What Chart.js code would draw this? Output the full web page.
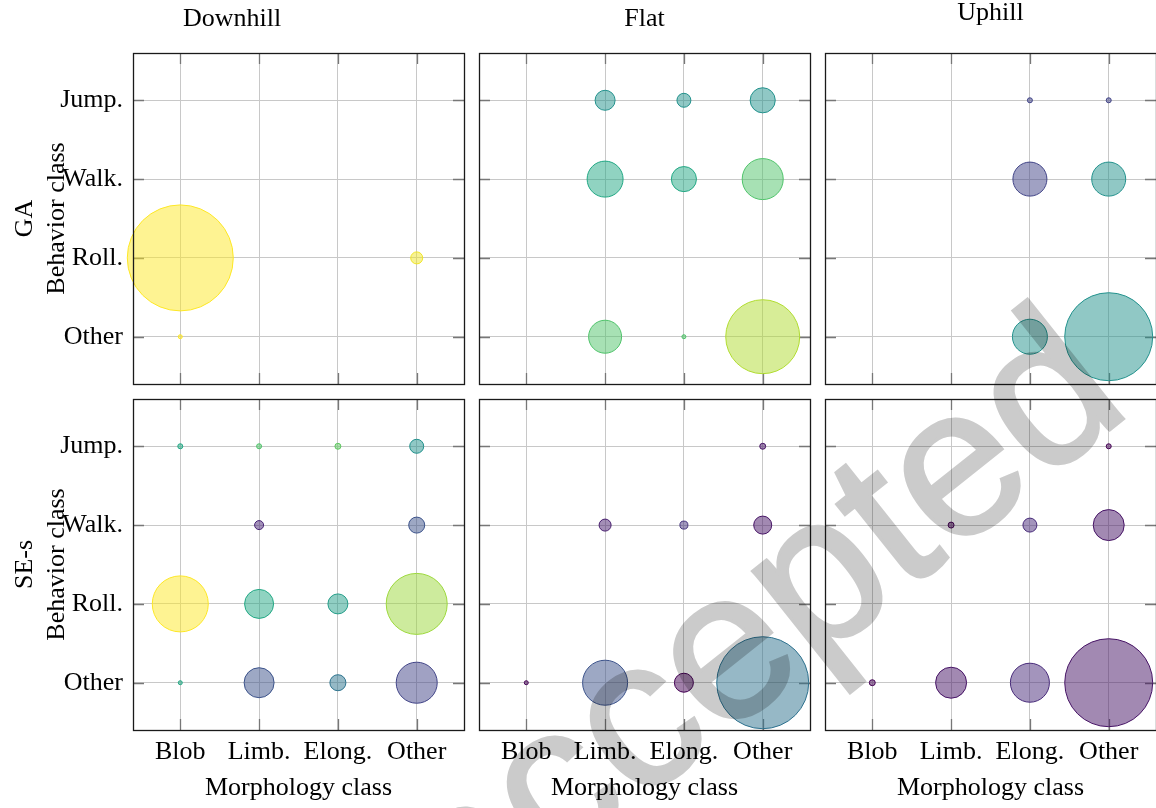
<!DOCTYPE html>
<html>
<head>
<meta charset="utf-8">
<style>
	html, body { margin: 0; padding: 0; background: #fff; overflow: hidden; width: 1156px; height: 808px; }
	canvas { position: absolute; }
	#wm { position: absolute; left: 0; top: 0; mix-blend-mode: multiply; pointer-events: none; }
</style>
<script src="https://cdn.jsdelivr.net/npm/chart.js"></script>
</head>
<body>
<canvas id="_c0"></canvas><canvas id="_c1"></canvas><canvas id="_c2"></canvas>
<canvas id="_c3"></canvas><canvas id="_c4"></canvas><canvas id="_c5"></canvas>
<svg id="wm" width="1156" height="808"><text x="461" y="946" transform="rotate(-38.5 461 946)" font-family="Liberation Sans, Arial, sans-serif" font-size="212" fill="#cbcbcb" stroke="#cbcbcb" stroke-width="3">accepted</text></svg>

<script>
var morphology = ['Blob', 'Limb.', 'Elong.', 'Other'];
var behavior   = ['Other', 'Roll.', 'Walk.', 'Jump.'];   // bottom -> top
var terrains   = ['Downhill', 'Flat', 'Uphill'];
var methods    = ['GA', 'SE-s'];

// share of runs (%), rows top -> bottom: Jump., Walk., Roll., Other ; cols Blob, Limb., Elong., Other
var gaDownhill = [ [0,0,0,0], [0,0,0,0], [98.1,0,0,1.26], [0.14,0,0,0] ];
var gaFlat     = [ [0,3.5,1.7,5.5], [0,11.3,5.5,14.7], [0,0,0,0], [0,9.5,0.14,47.8] ];
var gaUphill   = [ [0,0,0.22,0.22], [0,0,10.1,10.1], [0,0,0,0], [0,0,10.7,67.6] ];
var seDownhill = [ [0.22,0.22,0.31,1.71], [0,0.71,0,2.24], [27.4,7.35,3.49,32.5], [0.14,7.86,2.24,14.7] ];
var seFlat     = [ [0,0,0,0.31], [0,1.26,0.56,2.83], [0,0,0,0], [0.14,17.7,3.15,73.9] ];
var seUphill   = [ [0,0,0,0.22], [0,0.31,1.71,8.39], [0,0,0,0], [0.31,8.39,13.3,67.6] ];

// colour value (0..1 on viridis), same layout
var gaDownhillC = [ [0,0,0,0], [0,0,0,0], [1,0,0,0.98], [1,0,0,0] ];
var gaFlatC     = [ [0,.5,.5,.5], [0,.6,.6,.72], [0,0,0,0], [0,.72,.72,.88] ];
var gaUphillC   = [ [0,0,.2,.2], [0,0,.2,.5], [0,0,0,0], [0,0,.5,.5] ];
var seDownhillC = [ [.6,.72,.75,.5], [0,.1,0,.25], [1,.6,.55,.85], [.6,.25,.38,.2] ];
var seFlatC     = [ [0,0,0,.05], [0,.08,.15,.05], [0,0,0,0], [0,.25,0,.37] ];
var seUphillC   = [ [0,0,0,0], [0,0,.12,.05], [0,0,0,0], [0,.05,.12,.05] ];

var panels = [
	[gaDownhill, gaDownhillC], [gaFlat, gaFlatC], [gaUphill, gaUphillC],
	[seDownhill, seDownhillC], [seFlat, seFlatC], [seUphill, seUphillC]
];

var viridis = ['#440154','#482475','#414487','#355f8d','#2a788e','#21918c','#22a884','#44bf70','#7ad151','#bddf26','#fde725'];
function hex(h) { return [1,3,5].map(i => parseInt(h.substr(i, 2), 16)); }
function cmap(t, a) {
	var f = t * 10, i = Math.min(9, Math.floor(f)), k = f - i;
	var p = hex(viridis[i]), q = hex(viridis[i + 1]);
	var c = p.map((v, j) => Math.round(v + (q[j] - v) * k));
	return 'rgba(' + c.join(',') + ',' + a + ')';
}

function points(share, tone) {
	var pts = [];
	share.forEach((row, i) => row.forEach((v, j) => {
		if (v > 0) pts.push({ x: j, y: 3 - i, r: 5.35 * Math.sqrt(v), c: tone[i][j] });
	}));
	return pts.sort((a, b) => b.r - a.r);
}

var frame = {
	id: 'frame',
	beforeDatasetsDraw(chart) {
		var ctx = chart.ctx, a = chart.chartArea, x = chart.scales.x, y = chart.scales.y;
		ctx.save();
		ctx.strokeStyle = '#777'; ctx.lineWidth = 1.3;
		ctx.beginPath();
		x.ticks.forEach(t => {
			var px = Math.round(x.getPixelForValue(t.value)) + 0.5;
			ctx.moveTo(px, a.top); ctx.lineTo(px, a.top + 11);
			ctx.moveTo(px, a.bottom); ctx.lineTo(px, a.bottom - 11);
		});
		y.ticks.forEach(t => {
			var py = Math.round(y.getPixelForValue(t.value)) + 0.5;
			ctx.moveTo(a.left, py); ctx.lineTo(a.left + 11, py);
			ctx.moveTo(a.right, py); ctx.lineTo(a.right - 11, py);
		});
		ctx.stroke();
		ctx.restore();
	},
	afterDraw(chart) {
		var ctx = chart.ctx, a = chart.chartArea;
		ctx.save();
		ctx.strokeStyle = '#1a1a1a'; ctx.lineWidth = 1.3;
		ctx.strokeRect(a.left + 0.5, a.top + 0.5, a.right - a.left, a.bottom - a.top);
		ctx.restore();
	}
};

var PL = [133, 479, 825], PT = [53, 399], PS = 331;
var serif = 'Liberation Serif';

function makeChart(idx) {
	var row = Math.floor(idx / 3), col = idx % 3;
	var left = col === 0, top = row === 0, bottom = row === 1;
	var cv = document.getElementById('_c' + idx);
	cv.width = (left ? 133 : 6) + PS + 6;
	cv.height = (top ? 53 : 6) + PS + (bottom ? 78 : 6);
	cv.style.left = (left ? 0 : PL[col] - 6) + 'px';
	cv.style.top = (top ? 0 : PT[row] - 6) + 'px';

	var pts = points(panels[idx][0], panels[idx][1]);
	var grid = { color: '#c8c8c8', lineWidth: 1, drawTicks: false };

	return new Chart(cv, {
		type: 'bubble',
		data: { datasets: [{
			data: pts,
			clip: false,
			backgroundColor: ctx => cmap(ctx.raw.c, 0.5),
			borderColor: ctx => cmap(ctx.raw.c, 1),
			borderWidth: 1,
			hoverRadius: 0
		}] },
		plugins: [frame],
		options: {
			responsive: false,
			animation: false,
			events: [],
			layout: { autoPadding: false, padding: { left: left ? 0 : 6, right: 6, top: top ? 0 : 6, bottom: bottom ? 0 : 6 } },
			plugins: {
				legend: { display: false },
				tooltip: { enabled: false },
				title: {
					display: top,
					text: terrains[col],
					color: '#000',
					font: { family: serif, size: 26, weight: 'normal', lineHeight: 1 },
					padding: { top: col === 2 ? 0 : 6, bottom: col === 2 ? 27 : 21 }
				}
			},
			scales: {
				x: {
					type: 'linear', min: -0.6, max: 3.6,
					grid: grid,
					border: { display: false },
					afterBuildTicks: s => { s.ticks = [0, 1, 2, 3].map(v => ({ value: v })); },
					afterFit: s => { s.height = bottom ? 78 : 0; s.paddingLeft = 0; s.paddingRight = 0; },
					ticks: {
						display: bottom, padding: 7, color: '#000',
						font: { family: serif, size: 26 },
						maxRotation: 0, autoSkip: false,
						callback: v => morphology[v]
					},
					title: {
						display: bottom, text: 'Morphology class', color: '#000',
						font: { family: serif, size: 26, lineHeight: 1.2 },
						padding: { top: 0, bottom: 4 }
					}
				},
				y: {
					type: 'linear', min: -0.6, max: 3.6,
					grid: grid,
					border: { display: false },
					afterBuildTicks: s => { s.ticks = [0, 1, 2, 3].map(v => ({ value: v })); },
					afterFit: s => { s.width = left ? 133 : 0; s.paddingTop = 0; s.paddingBottom = 0; },
					ticks: {
						display: left, padding: 10, color: '#000',
						font: { family: serif, size: 26 },
						autoSkip: false,
						callback: v => behavior[v]
					},
					title: {
						display: left, text: [methods[row], 'Behavior class'], color: '#000',
						font: { family: serif, size: 26, lineHeight: 32 / 26 },
						padding: { top: 9, bottom: 0 }
					}
				}
			}
		}
	});
}

var charts = [0, 1, 2, 3, 4, 5].map(makeChart);
</script>
</body>
</html>
